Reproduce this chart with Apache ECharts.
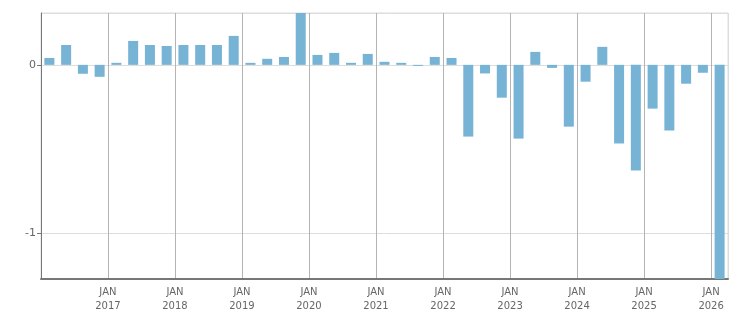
<!DOCTYPE html>
<html>
<head>
<meta charset="utf-8">
<script src="https://cdn.jsdelivr.net/npm/echarts@6/dist/echarts.min.js"></script>
<style>
  html, body { margin: 0; padding: 0; background: #fff; }
  #chart { width: 751px; height: 313px; }
</style>
</head>
<body>
<div id="chart"></div>
<script>
// quarters from 2016 Q1 to 2026 Q1
var quarters = [
    '2016 Q1', '2016 Q2', '2016 Q3', '2016 Q4',
    '2017 Q1', '2017 Q2', '2017 Q3', '2017 Q4',
    '2018 Q1', '2018 Q2', '2018 Q3', '2018 Q4',
    '2019 Q1', '2019 Q2', '2019 Q3', '2019 Q4',
    '2020 Q1', '2020 Q2', '2020 Q3', '2020 Q4',
    '2021 Q1', '2021 Q2', '2021 Q3', '2021 Q4',
    '2022 Q1', '2022 Q2', '2022 Q3', '2022 Q4',
    '2023 Q1', '2023 Q2', '2023 Q3', '2023 Q4',
    '2024 Q1', '2024 Q2', '2024 Q3', '2024 Q4',
    '2025 Q1', '2025 Q2', '2025 Q3', '2025 Q4',
    '2026 Q1'
];
var values = [
    0.041, 0.118, -0.053, -0.071,
    0.012, 0.142, 0.118, 0.112,
    0.118, 0.118, 0.118, 0.172,
    0.012, 0.036, 0.047, 0.308,
    0.059, 0.071, 0.012, 0.065,
    0.018, 0.012, -0.006, 0.047,
    0.041, -0.426, -0.051, -0.195,
    -0.438, 0.077, -0.018, -0.367,
    -0.100, 0.107, -0.467, -0.627,
    -0.260, -0.390, -0.112, -0.047,
    -1.272
];
var monthLabel = 'JAN';
var yMin = -1.272;
var yMax = 0.308;

var chart = echarts.init(document.getElementById('chart'));

function isYearStart(index) {
    return index > 0 && index % 4 === 0;
}

// year lines darker, the closing right edge light like the frame
var splitColors = [];
for (var i = 0; i < 11; i++) splitColors.push('#b4b4b4');
splitColors.push('#dddddd');

var option = {
    animation: false,
    textStyle: { fontFamily: 'DejaVu Sans' },
    grid: {
        left: 41,
        right: 23,
        top: 13,
        bottom: 33,
        show: true,
        borderColor: '#dddddd',
        borderWidth: 1
    },
    xAxis: {
        type: 'category',
        data: quarters,
        boundaryGap: true,
        axisLine: { onZero: false, lineStyle: { color: '#777777', width: 2 } },
        axisTick: {
            interval: 0,
            length: 3,
            lineStyle: { color: '#777777' }
        },
        splitLine: {
            show: true,
            interval: function (index) { return index % 4 === 0; },
            lineStyle: { color: splitColors, width: 1 }
        },
        axisLabel: {
            interval: function (index) { return isYearStart(index); },
            formatter: function (value) {
                return monthLabel + '\n' + value.split(' ')[0];
            },
            color: '#666666',
            fontSize: 10,
            lineHeight: 14,
            margin: 6,
            padding: [0, 17, 0, 0]
        }
    },
    yAxis: {
        type: 'value',
        min: yMin,
        max: yMax,
        splitNumber: 2,
        axisLine: { show: true, lineStyle: { color: '#777777', width: 1 } },
        axisTick: { show: true, length: 4, lineStyle: { color: '#777777' } },
        splitLine: { lineStyle: { color: '#dddddd', width: 1 } },
        axisLabel: {
            showMinLabel: false,
            showMaxLabel: false,
            color: '#666666',
            fontSize: 11,
            margin: 5
        }
    },
    series: [{
        type: 'bar',
        data: values,
        barWidth: 10,
        itemStyle: { color: '#77b3d4' }
    }]
};

chart.setOption(option);
</script>
</body>
</html>
